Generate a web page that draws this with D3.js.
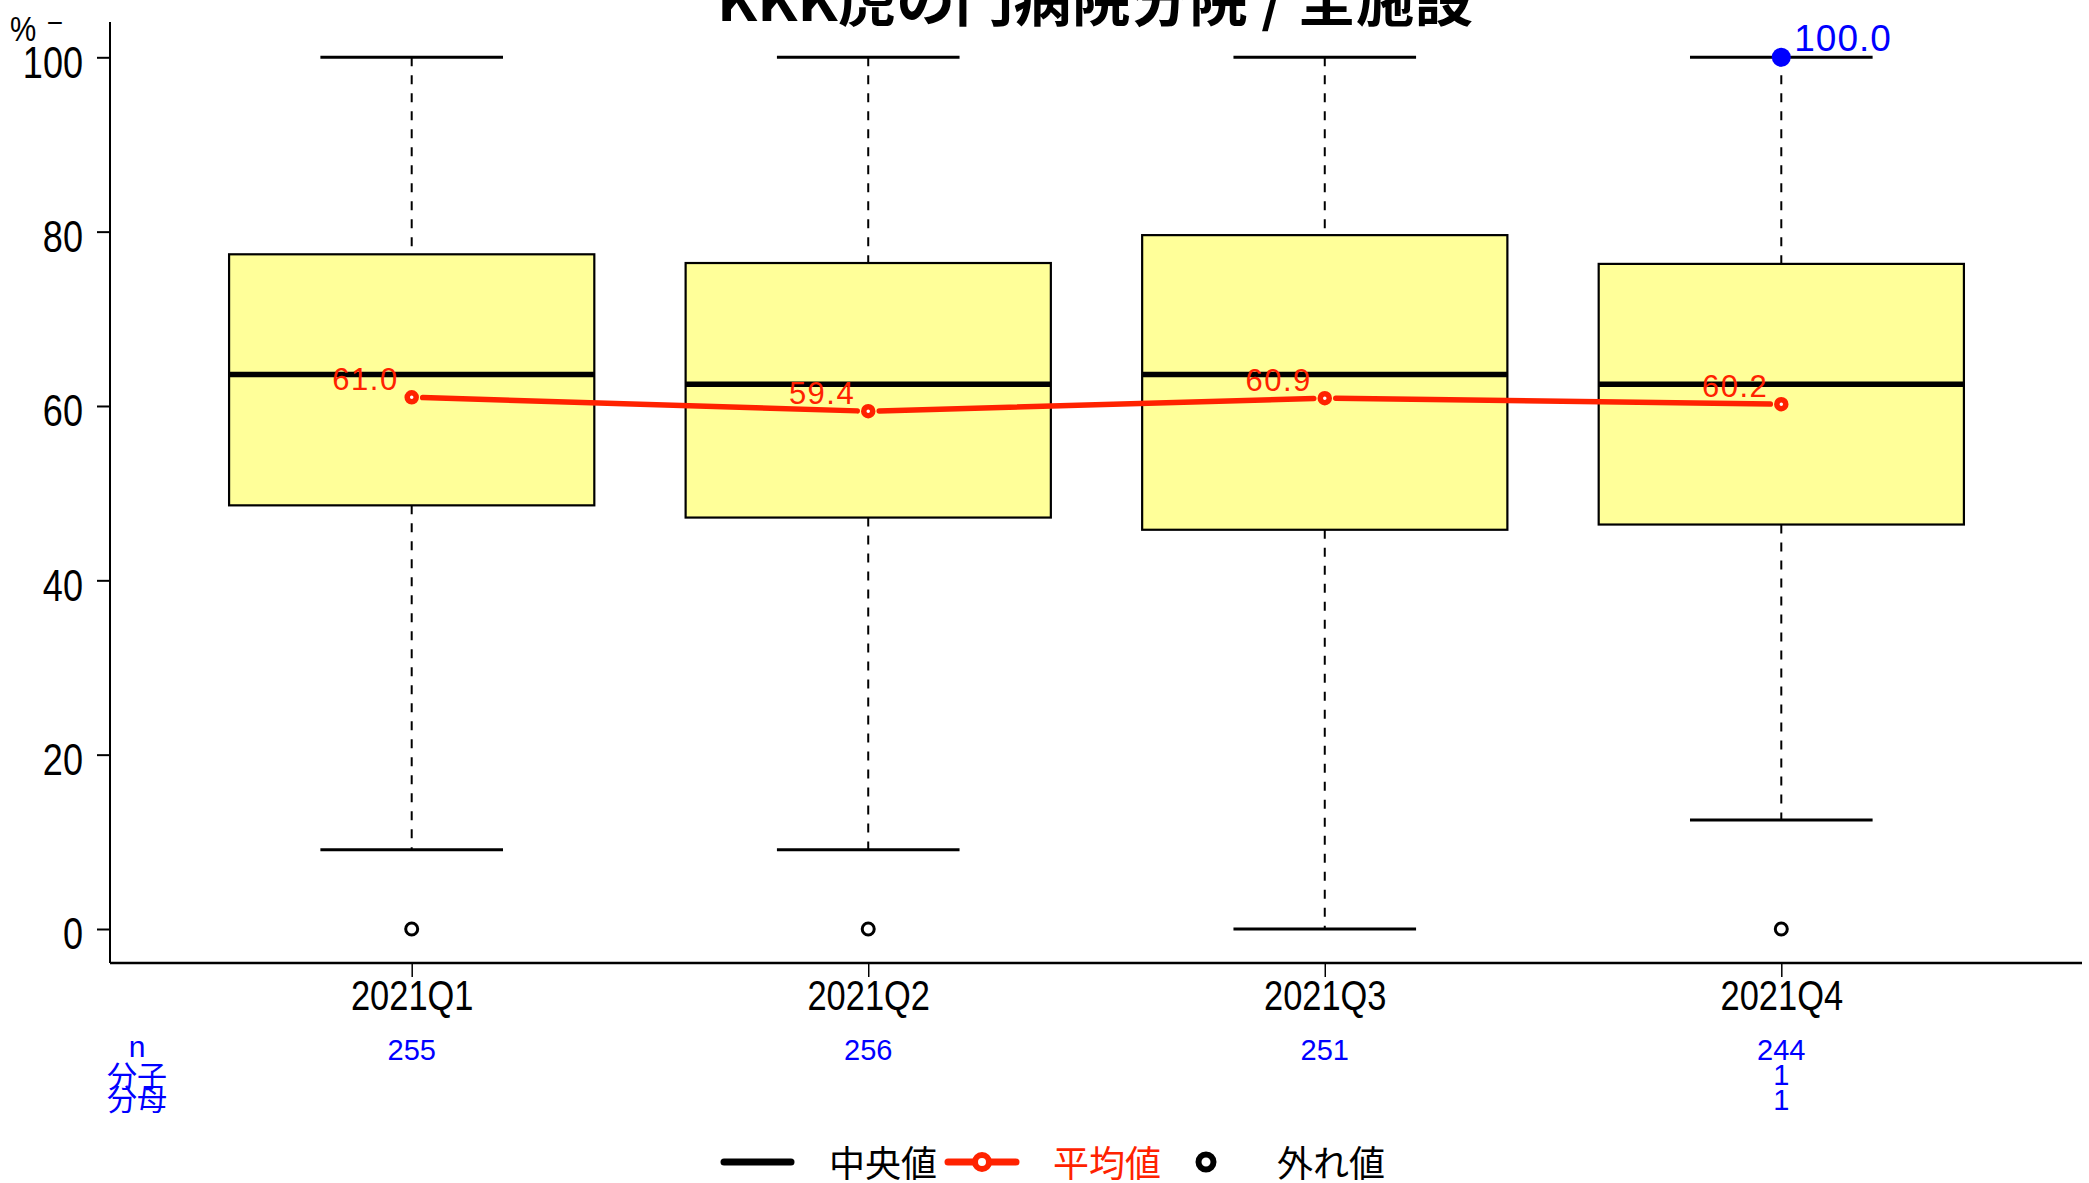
<!DOCTYPE html>
<html><head><meta charset="utf-8">
<script src="https://cdn.jsdelivr.net/npm/d3@7"></script>
<style>
html,body{margin:0;padding:0;background:#fff;}
svg{display:block;}
</style></head>
<body>
<svg id="chart" width="2089" height="1183"></svg>
<script>
const categories = ["2021Q1","2021Q2","2021Q3","2021Q4"];
const whiskerHigh = [100, 100, 100, 100];
const upperQuartile = [77.4, 76.4, 79.6, 76.3];
const medians = [63.6, 62.5, 63.6, 62.5];
const lowerQuartile = [48.6, 47.2, 45.8, 46.4];
const whiskerLow = [9.1, 9.1, 0, 12.5];
const means = [61.0, 59.4, 60.9, 60.2];
const outliers = [[0], [0], [], [0]];
const nCounts = ["255", "256", "251", "244"];
const numerators = ["", "", "", "1"];
const denominators = ["", "", "", "1"];
const highlightCategory = ["2021Q4"];
const highlightValue = [100];
const yTicks = [0, 20, 40, 60, 80, 100];
const titleText = "KKK虎の門病院分院 / 全施設";
const legendLabels = ["中央値", "平均値", "外れ値"];

const RED = "#ff2200", BLUE = "#0000ff", BOXFILL = "#ffff99";
const SANS = "'Liberation Sans',Arial,sans-serif";
const CJK = "'Noto Sans CJK JP','Noto Sans',sans-serif";
const NARROW_K = 0.82;

const svg = d3.select("#chart");
const x = d3.scalePoint().domain(categories).range([411.7, 1781.3]);
const y = d3.scaleLinear().domain([0, 100]).range([929, 57.3]);
const boxW = x.step() * 0.8;
const capW = x.step() * 0.4;
const axisLeftX = 110, axisRightX = 2082, axisBottomY = 963, axisTopY = 22;

// title (clipped at top as in reference)
svg.append("text").attr("x", 1095).attr("y", 21).attr("text-anchor", "middle")
  .attr("font-family", CJK).attr("font-weight", "bold").attr("font-size", 56)
  .attr("textLength", 756).attr("lengthAdjust", "spacingAndGlyphs")
  .text(titleText);

// % label
svg.append("text").attr("transform", `translate(23,41) scale(${NARROW_K},1)`).attr("text-anchor", "middle")
  .attr("font-family", SANS).attr("font-size", 36).text("%");
svg.append("text").attr("x", 55).attr("y", 32).attr("text-anchor", "middle")
  .attr("font-family", SANS).attr("font-size", 28).text("−");

// axes lines
svg.append("line").attr("x1", axisLeftX).attr("x2", axisLeftX).attr("y1", axisTopY).attr("y2", axisBottomY)
  .attr("stroke", "#000").attr("stroke-width", 2);
svg.append("line").attr("x1", axisLeftX).attr("x2", axisRightX).attr("y1", axisBottomY).attr("y2", axisBottomY)
  .attr("stroke", "#000").attr("stroke-width", 2.5);

// y axis
const yAxis = svg.append("g").attr("transform", `translate(${axisLeftX},0)`)
  .call(d3.axisLeft(y).tickValues(yTicks).tickSize(13).tickPadding(14).tickFormat(d3.format("d")));
yAxis.select(".domain").remove();
yAxis.selectAll(".tick line").attr("stroke", "#000").attr("stroke-width", 2);
yAxis.selectAll(".tick text").attr("font-family", SANS).attr("font-size", 44)
  .attr("fill", "#000").attr("x", null).attr("dy", "0.45em")
  .attr("transform", `translate(-27,0) scale(${NARROW_K},1)`);

// x axis
const xAxis = svg.append("g").attr("transform", `translate(0,${axisBottomY})`)
  .call(d3.axisBottom(x).tickSize(14));
xAxis.select(".domain").remove();
xAxis.selectAll(".tick line").attr("stroke", "#000").attr("stroke-width", 1.5);
xAxis.selectAll(".tick text").attr("font-family", SANS).attr("font-size", 42)
  .attr("fill", "#000").attr("y", null).attr("dy", null)
  .attr("transform", `translate(0,47) scale(${NARROW_K},1)`);

// boxes
const data = categories.map((c, i) => ({
  c, hi: whiskerHigh[i], q3: upperQuartile[i], med: medians[i], q1: lowerQuartile[i],
  lo: whiskerLow[i], mean: means[i], out: outliers[i]
}));
const g = svg.append("g");
const bx = g.selectAll("g.box").data(data).enter().append("g");

// whiskers (dashed)
bx.append("line").attr("x1", d => x(d.c)).attr("x2", d => x(d.c))
  .attr("y1", d => y(d.hi)).attr("y2", d => y(d.q3))
  .attr("stroke", "#000").attr("stroke-width", 2).attr("stroke-dasharray", "9,9");
bx.append("line").attr("x1", d => x(d.c)).attr("x2", d => x(d.c))
  .attr("y1", d => y(d.q1)).attr("y2", d => y(d.lo))
  .attr("stroke", "#000").attr("stroke-width", 2).attr("stroke-dasharray", "9,9");
// caps
bx.append("line").attr("x1", d => x(d.c) - capW / 2).attr("x2", d => x(d.c) + capW / 2)
  .attr("y1", d => y(d.hi)).attr("y2", d => y(d.hi)).attr("stroke", "#000").attr("stroke-width", 3);
bx.append("line").attr("x1", d => x(d.c) - capW / 2).attr("x2", d => x(d.c) + capW / 2)
  .attr("y1", d => y(d.lo)).attr("y2", d => y(d.lo)).attr("stroke", "#000").attr("stroke-width", 3);
// box
bx.append("rect").attr("x", d => x(d.c) - boxW / 2).attr("width", boxW)
  .attr("y", d => y(d.q3)).attr("height", d => y(d.q1) - y(d.q3))
  .attr("fill", BOXFILL).attr("stroke", "#000").attr("stroke-width", 2.2);
// median
bx.append("line").attr("x1", d => x(d.c) - boxW / 2).attr("x2", d => x(d.c) + boxW / 2)
  .attr("y1", d => y(d.med)).attr("y2", d => y(d.med)).attr("stroke", "#000").attr("stroke-width", 5.5);
// outliers
bx.each(function(d) {
  d3.select(this).selectAll("circle.out").data(d.out).enter().append("circle")
    .attr("cx", x(d.c)).attr("cy", v => y(v)).attr("r", 6)
    .attr("fill", "#fff").attr("stroke", "#000").attr("stroke-width", 3);
});

// mean line (type "b": gaps around points)
const gap = 11;
for (let i = 0; i < data.length - 1; i++) {
  const x1 = x(data[i].c), y1 = y(data[i].mean), x2 = x(data[i + 1].c), y2 = y(data[i + 1].mean);
  const len = Math.hypot(x2 - x1, y2 - y1), ux = (x2 - x1) / len, uy = (y2 - y1) / len;
  g.append("line").attr("x1", x1 + ux * gap).attr("y1", y1 + uy * gap)
    .attr("x2", x2 - ux * gap).attr("y2", y2 - uy * gap)
    .attr("stroke", RED).attr("stroke-width", 5.5).attr("stroke-linecap", "round");
}
g.selectAll("circle.mean").data(data).enter().append("circle")
  .attr("cx", d => x(d.c)).attr("cy", d => y(d.mean)).attr("r", 4.5)
  .attr("fill", "#fff").attr("stroke", RED).attr("stroke-width", 5.5);
g.selectAll("text.mean").data(data).enter().append("text")
  .attr("x", d => x(d.c) - 13).attr("y", d => y(d.mean) - 7).attr("text-anchor", "end")
  .attr("font-family", SANS).attr("font-size", 31).attr("letter-spacing", 1.5).attr("fill", RED)
  .text(d => d.mean.toFixed(1));

// highlighted facility value
g.selectAll("circle.hl").data(highlightCategory).enter().append("circle")
  .attr("cx", d => x(d)).attr("cy", (d, i) => y(highlightValue[i])).attr("r", 9.5).attr("fill", BLUE);
g.selectAll("text.hl").data(highlightCategory).enter().append("text")
  .attr("x", d => x(d) + 13).attr("y", (d, i) => y(highlightValue[i]) - 6)
  .attr("font-family", SANS).attr("font-size", 37).attr("letter-spacing", 1).attr("fill", BLUE)
  .text((d, i) => highlightValue[i].toFixed(1));

// counts table
const rowsY = [1060, 1085, 1110];
const rowLabels = ["n", "分子", "分母"];
const rowLabelY = [1057, 1087, 1110];
svg.selectAll("text.rowlab").data(rowLabels).enter().append("text")
  .attr("x", 137).attr("y", (d, i) => rowLabelY[i]).attr("text-anchor", "middle")
  .attr("font-family", (d, i) => i === 0 ? SANS : CJK).attr("font-size", 30).attr("fill", BLUE).text(d => d);
[nCounts, numerators, denominators].forEach((arr, r) => {
  svg.selectAll(null).data(categories).enter().append("text")
    .attr("x", d => x(d)).attr("y", rowsY[r]).attr("text-anchor", "middle")
    .attr("font-family", SANS).attr("font-size", 29).attr("fill", BLUE)
    .text((d, i) => arr[i]);
});

// legend
const lg = svg.append("g");
const ly = 1162;
lg.append("line").attr("x1", 724).attr("x2", 791).attr("y1", ly).attr("y2", ly)
  .attr("stroke", "#000").attr("stroke-width", 7).attr("stroke-linecap", "round");
lg.append("text").attr("x", 829).attr("y", 1177).attr("font-family", CJK).attr("font-size", 36)
  .attr("fill", "#000").text(legendLabels[0]);
lg.append("line").attr("x1", 948).attr("x2", 1016).attr("y1", ly).attr("y2", ly)
  .attr("stroke", RED).attr("stroke-width", 7).attr("stroke-linecap", "round");
lg.append("circle").attr("cx", 982).attr("cy", ly).attr("r", 7).attr("fill", "#fff")
  .attr("stroke", RED).attr("stroke-width", 6);
lg.append("text").attr("x", 1053).attr("y", 1177).attr("font-family", CJK).attr("font-size", 36)
  .attr("fill", RED).text(legendLabels[1]);
lg.append("circle").attr("cx", 1206).attr("cy", ly).attr("r", 7.5).attr("fill", "#fff")
  .attr("stroke", "#000").attr("stroke-width", 6);
lg.append("text").attr("x", 1277).attr("y", 1177).attr("font-family", CJK).attr("font-size", 36)
  .attr("fill", "#000").text(legendLabels[2]);
</script>
</body></html>
